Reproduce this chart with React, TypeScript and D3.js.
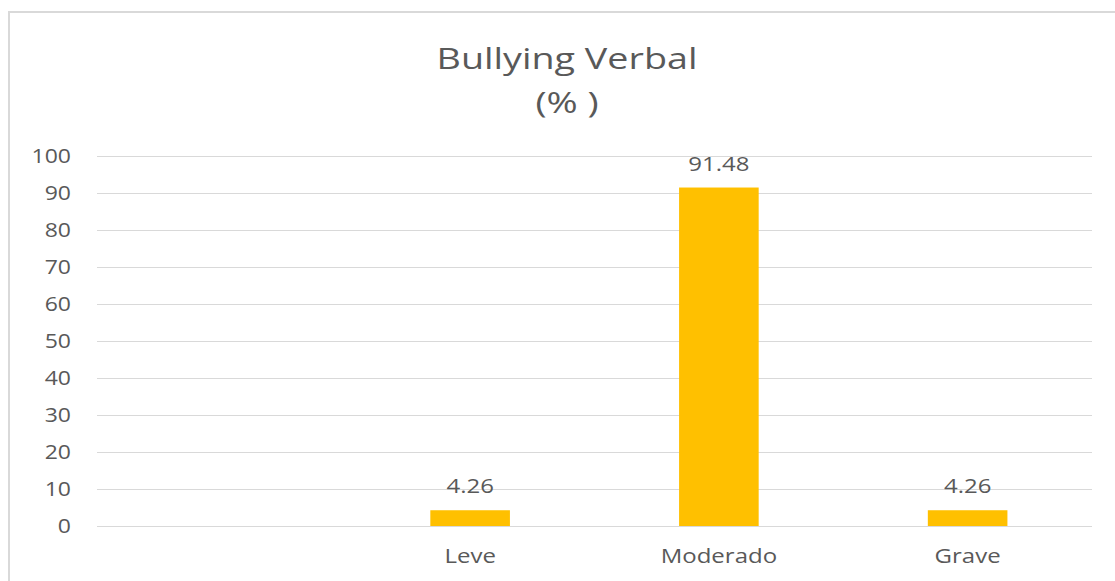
import React, { useRef, useEffect } from 'react';
import * as d3 from 'd3';

// chart values
const categories = ['', 'Leve', 'Moderado', 'Grave'];
const values: (number | null)[] = [null, 4.26, 91.48, 4.26];
const yTicks = [0, 10, 20, 30, 40, 50, 60, 70, 80, 90, 100];
const titleLines = ['Bullying Verbal', '(% )'];

function App() {
    const ref = useRef<SVGSVGElement>(null);

    useEffect(() => {
        const width = 1115;
        const height = 581;
        const margin = { top: 156, right: 23, bottom: 55, left: 97 };
        const innerW = width - margin.left - margin.right;
        const innerH = height - margin.top - margin.bottom;
        const font = "'Open Sans', sans-serif";
        const textColor = '#595959';
        const sx = 1.2; // reference text is drawn a bit wide

        const svg = d3.select(ref.current);
        svg.selectAll('*').remove();

        // outer chart frame (only top and left visible)
        svg.append('path')
            .attr('d', `M9,${height} L9,12 L${width},12`)
            .attr('fill', 'none')
            .attr('stroke', '#d9d9d9')
            .attr('stroke-width', 2);

        titleLines.forEach((t, i) => {
            svg.append('text')
                .attr('transform', `translate(567,${69 + i * 44}) scale(1.3,1)`)
                .attr('text-anchor', 'middle')
                .attr('fill', textColor)
                .style('font-family', font)
                .style('font-size', '29px')
                .text(t);
        });

        const g = svg.append('g')
            .attr('transform', `translate(${margin.left},${margin.top})`);

        const x = d3.scaleBand<string>()
            .domain(categories.map((c, i) => String(i)))
            .range([0, innerW])
            .paddingInner(0.68)
            .paddingOuter(0.34);

        const y = d3.scaleLinear()
            .domain([0, 100])
            .range([innerH, 0]);

        // gridlines
        g.selectAll('.grid')
            .data(yTicks)
            .enter().append('line')
            .attr('x1', 0)
            .attr('x2', innerW)
            .attr('y1', d => Math.round(y(d)) + 0.5)
            .attr('y2', d => Math.round(y(d)) + 0.5)
            .attr('stroke', '#d9d9d9')
            .attr('stroke-width', 1);

        // y tick labels
        g.selectAll('.ytick')
            .data(yTicks)
            .enter().append('text')
            .attr('transform', d => `translate(-26,${y(d)}) scale(1.15,1)`)
            .attr('dy', '0.36em')
            .attr('text-anchor', 'end')
            .attr('fill', textColor)
            .style('font-family', font)
            .style('font-size', '20px')
            .text(d => d);

        const data = categories.map((c, i) => ({ key: String(i), label: c, value: values[i] }));
        const withValues = data.filter(d => d.value !== null);

        g.selectAll('.bar')
            .data(withValues)
            .enter().append('rect')
            .attr('x', d => x(d.key)!)
            .attr('width', x.bandwidth())
            .attr('y', d => y(d.value!))
            .attr('height', d => innerH - y(d.value!))
            .attr('fill', '#ffc000');

        g.selectAll('.value')
            .data(withValues)
            .enter().append('text')
            .attr('transform', d => `translate(${x(d.key)! + x.bandwidth() / 2},${y(d.value!) - 17}) scale(${sx},1)`)
            .attr('text-anchor', 'middle')
            .attr('fill', textColor)
            .style('font-family', font)
            .style('font-size', '20px')
            .text(d => d.value!.toFixed(2));

        g.selectAll('.xlabel')
            .data(data)
            .enter().append('text')
            .attr('transform', d => `translate(${x(d.key)! + x.bandwidth() / 2},${innerH + 37}) scale(${sx},1)`)
            .attr('text-anchor', 'middle')
            .attr('fill', textColor)
            .style('font-family', font)
            .style('font-size', '20px')
            .text(d => d.label);
    }, []);

    return (
        <svg ref={ref} width={1115} height={581}
            style={{ position: 'absolute', left: 0, top: 0, background: '#fff' }} />
    );
}

export default App;
